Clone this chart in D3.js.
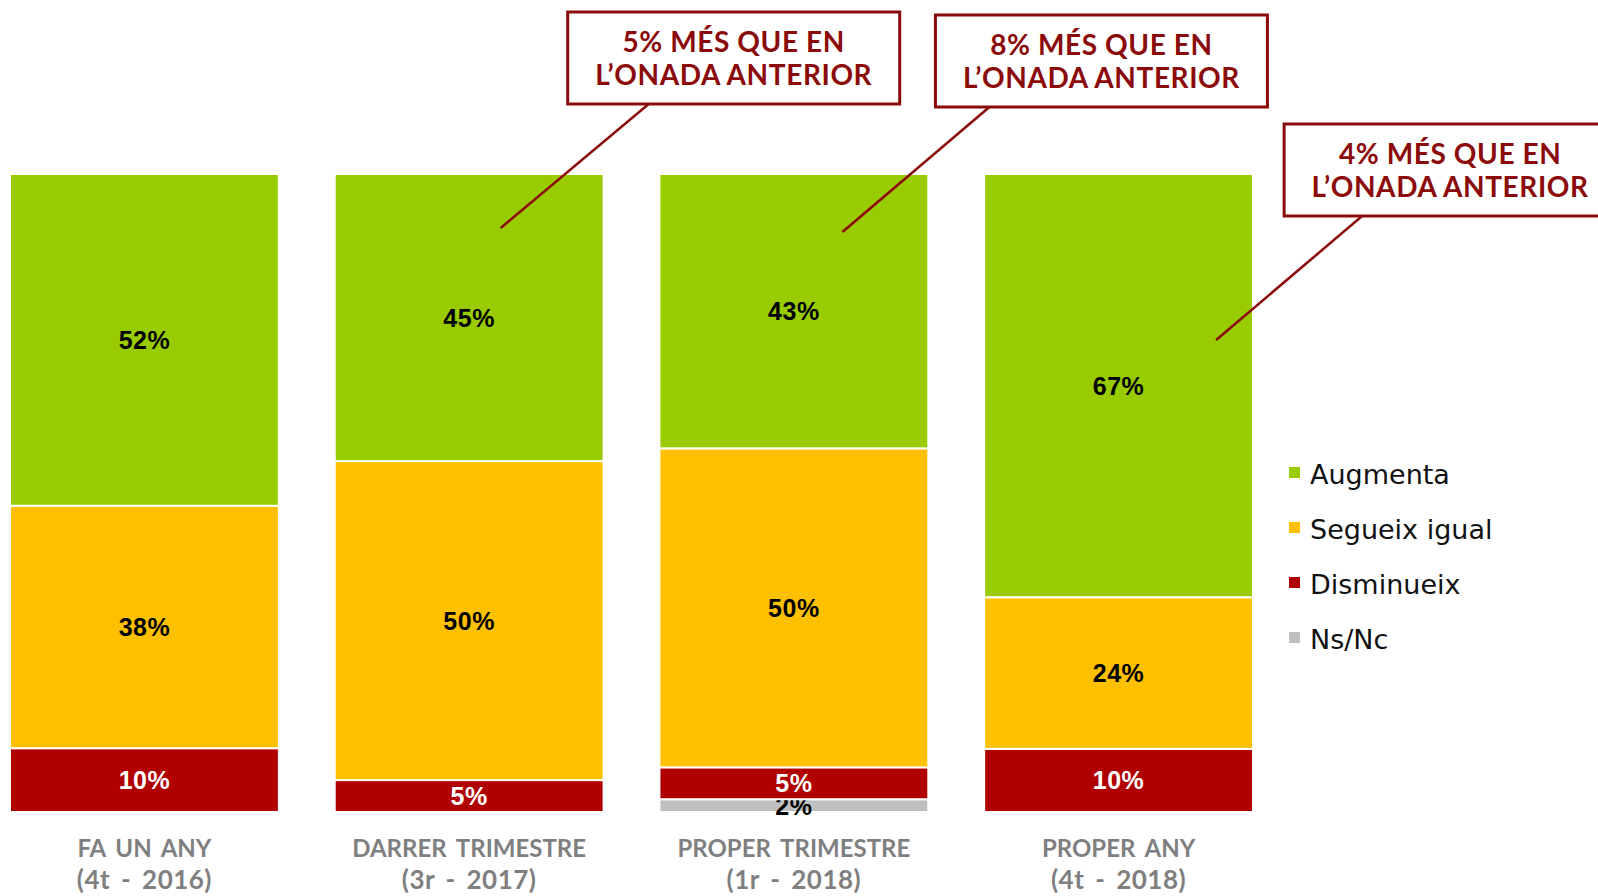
<!DOCTYPE html>
<html>
<head>
<meta charset="utf-8">
<script src="https://cdn.jsdelivr.net/npm/d3@7"></script>
<style>
	body { margin: 0; background: #fff; overflow: hidden; }
	svg { display: block; }
</style>
</head>
<body>
<div id="chart"></div>
<script>
// data
var categories = ["FA UN ANY|(4t - 2016)", "DARRER TRIMESTRE|(3r - 2017)", "PROPER TRIMESTRE|(1r -  2018)", "PROPER ANY|(4t - 2018)"];
var series = ["Augmenta", "Segueix igual", "Disminueix", "Ns/Nc"];
var augmenta = [52, 45, 43, 67];
var segueix = [38, 50, 50, 24];
var disminueix = [10, 5, 5, 10];
var nsnc = [0, 0, 2, 0];
var calloutCats = [1, 2, 3];
var calloutText = [["5%  MÉS QUE  EN", "L’ONADA  ANTERIOR"], ["8%  MÉS QUE  EN", "L’ONADA  ANTERIOR"], ["4%  MÉS QUE  EN", "L’ONADA  ANTERIOR"]];

var colors = {
	"Augmenta": "#99cc00",
	"Segueix igual": "#ffc000",
	"Disminueix": "#b00000",
	"Ns/Nc": "#bfbfbf"
};
var labelColors = {
	"Augmenta": "#000",
	"Segueix igual": "#000",
	"Disminueix": "#fff",
	"Ns/Nc": "#000"
};
var calloutRed = "#8b0a0a";

var width = 1598, height = 896;
var svg = d3.select("#chart").append("svg")
	.attr("width", width)
	.attr("height", height);

var rows = categories.map(function(c, i) {
	return {
		cat: c,
		"Augmenta": augmenta[i],
		"Segueix igual": segueix[i],
		"Disminueix": disminueix[i],
		"Ns/Nc": nsnc[i]
	};
});

var x = d3.scaleBand()
	.domain(categories)
	.range([10, 1253])
	.paddingInner(0.172)
	.paddingOuter(0);

var y = d3.scaleLinear()
	.domain([0, 1])
	.range([812, 174]);

// bottom of the bar is the last series, so stack in reverse
var stack = d3.stack()
	.keys(series.slice().reverse())
	.offset(d3.stackOffsetExpand);
var layers = stack(rows);

var barGroup = svg.append("g").attr("class", "bars");
layers.forEach(function(layer) {
	var key = layer.key;
	barGroup.selectAll(null)
		.data(layer.filter(function(d) { return d.data[key] > 0; }))
		.enter().append("rect")
		.attr("x", function(d) { return x(d.data.cat); })
		.attr("y", function(d) { return y(d[1]); })
		.attr("width", x.bandwidth())
		.attr("height", function(d) { return y(d[0]) - y(d[1]); })
		.attr("fill", colors[key])
		.attr("stroke", "#fff")
		.attr("stroke-width", 2);

	barGroup.selectAll(null)
		.data(layer.filter(function(d) { return d.data[key] > 0; }))
		.enter().append("text")
		.text(function(d) { return d.data[key] + "%"; })
		.attr("x", function(d) { return x(d.data.cat) + x.bandwidth() / 2; })
		.attr("y", function(d) { return (y(d[0]) + y(d[1])) / 2; })
		.attr("dy", "0.36em")
		.attr("text-anchor", "middle")
		.attr("fill", labelColors[key])
		.style("font-family", "'Liberation Sans', Arial, sans-serif")
		.style("font-weight", "bold")
		.style("font-size", "25px")
		.style("letter-spacing", "0.5px");
});

// category labels, two lines each
var catLabels = svg.append("g").attr("class", "catLabels");
categories.forEach(function(c) {
	var parts = c.split("|");
	var cx = x(c) + x.bandwidth() / 2;
	var t = catLabels.append("text")
		.attr("x", cx)
		.attr("text-anchor", "middle")
		.attr("fill", "#7f7f7f")
		.style("font-family", "Lato, 'Open Sans', sans-serif")
		.style("font-weight", "bold")
		.style("font-size", "24px")
		.style("word-spacing", "4px");
	t.append("tspan").attr("x", cx).attr("y", 857).text(parts[0]);
	t.append("tspan").attr("x", cx).attr("y", 889)
		.style("font-size", "26px")
		.style("letter-spacing", "0.5px")
		.text(parts[1]);
});

// legend
var legend = svg.append("g").attr("class", "legend");
series.forEach(function(s, i) {
	var ly = 474 + i * 55;
	legend.append("rect")
		.attr("x", 1289)
		.attr("y", ly - 7)
		.attr("width", 11)
		.attr("height", 11)
		.attr("fill", colors[s]);
	legend.append("text")
		.text(s)
		.attr("x", 1310)
		.attr("y", ly)
		.attr("dy", "0.36em")
		.attr("fill", "#111")
		.style("font-family", "'DejaVu Sans', sans-serif")
		.style("font-size", "27px");
});

// callouts above the bars
var callouts = svg.append("g").attr("class", "callouts");
var boxOffsets = [
	{ bx: 233, by: 12, lx: 314, ly: 104, ex: 166, ey: 228 },
	{ bx: 276, by: 15, lx: 330, ly: 107, ex: 183, ey: 232 },
	{ bx: 300, by: 124, lx: 378, ly: 216, ex: 232, ey: 340 }
];
calloutCats.forEach(function(ci, i) {
	var x0 = x(categories[ci]);
	var o = boxOffsets[i];
	var bw = 332, bh = 92;
	var bx = x0 + o.bx;
	callouts.append("line")
		.attr("x1", x0 + o.lx)
		.attr("y1", o.ly)
		.attr("x2", x0 + o.ex)
		.attr("y2", o.ey)
		.attr("stroke", calloutRed)
		.attr("stroke-width", 2.5);
	callouts.append("rect")
		.attr("x", bx)
		.attr("y", o.by)
		.attr("width", bw)
		.attr("height", bh)
		.attr("fill", "#fff")
		.attr("stroke", calloutRed)
		.attr("stroke-width", 3);
	calloutText[i].forEach(function(line, j) {
		callouts.append("text")
			.text(line)
			.attr("x", bx + bw / 2)
			.attr("y", o.by + 30 + j * 33)
			.attr("dy", "0.36em")
			.attr("text-anchor", "middle")
			.attr("fill", calloutRed)
			.style("font-family", "Lato, 'Open Sans', sans-serif")
			.style("font-weight", "bold")
			.style("font-size", "28px")
			.style("letter-spacing", "0.6px");
	});
});
</script>
</body>
</html>
